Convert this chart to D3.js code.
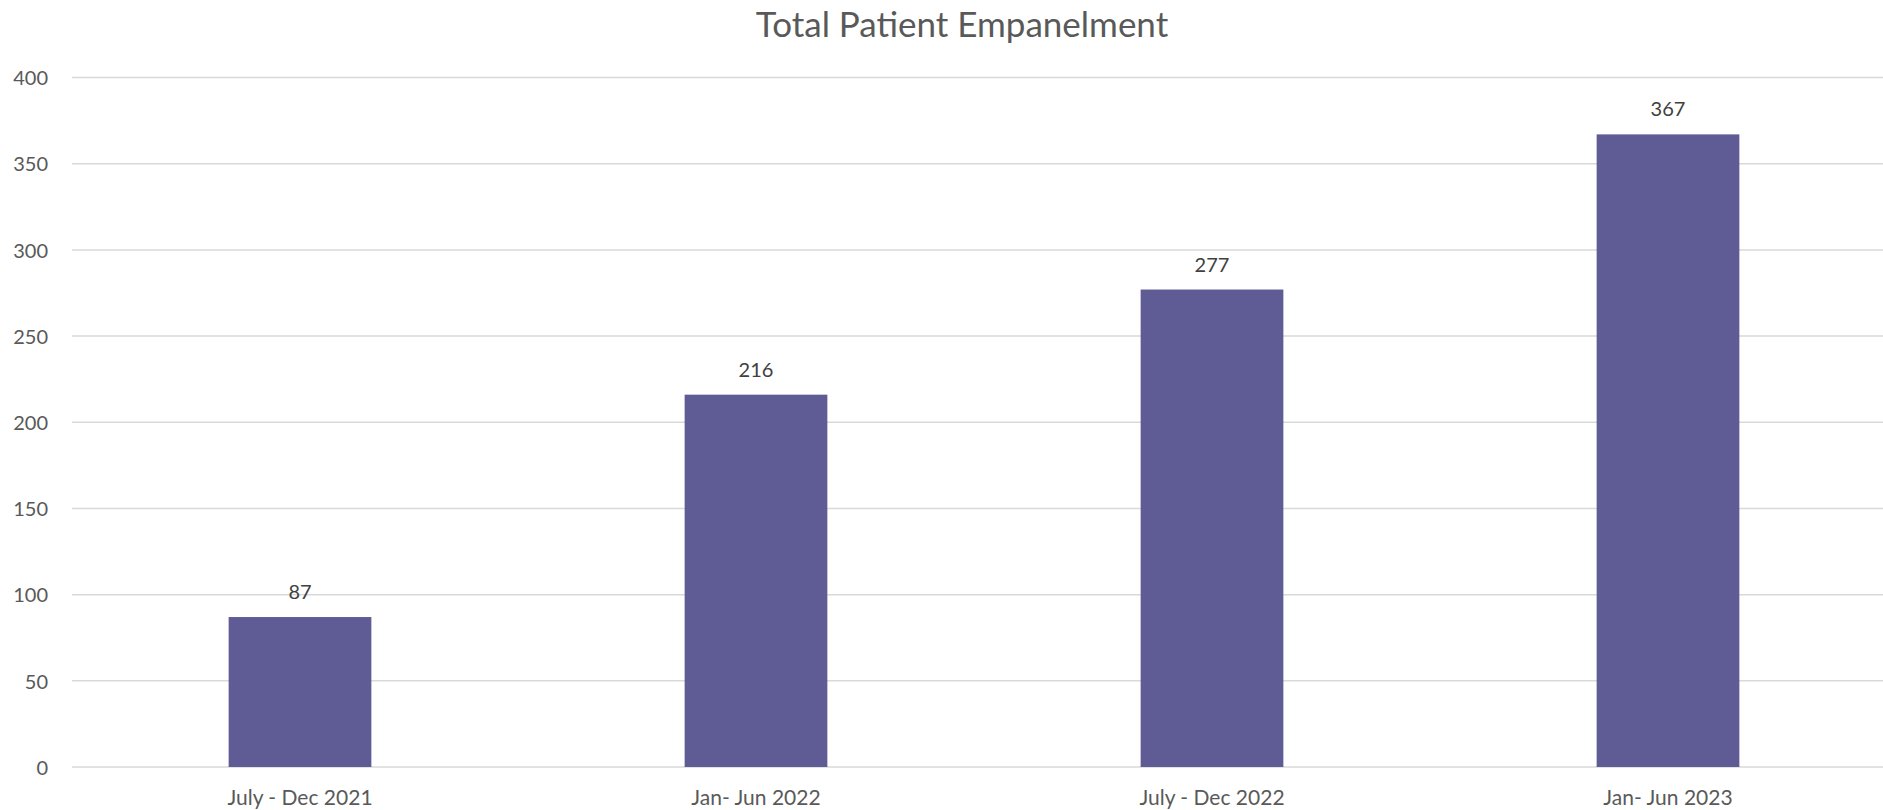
<!DOCTYPE html>
<html>
<head>
<meta charset="utf-8">
<script src="https://cdn.jsdelivr.net/npm/d3@7"></script>
<style>
  html, body { margin: 0; padding: 0; background: #fff; }
  svg { display: block; font-family: Lato, "Open Sans", sans-serif; }
</style>
</head>
<body>
<svg id="chart" width="1883" height="810"></svg>
<script>
const categories = ["July - Dec 2021", "Jan- Jun 2022", "July - Dec 2022", "Jan- Jun 2023"];
const values = [87, 216, 277, 367];
const yTicks = [0, 50, 100, 150, 200, 250, 300, 350, 400];
const title = "Total Patient Empanelment";

const svg = d3.select("#chart");
const plotLeft = 72, plotRight = 1896, plotTop = 77.5, plotBottom = 767;

const x = d3.scaleBand().domain(categories).range([plotLeft, plotRight]).paddingInner(0.687).paddingOuter(0.3435);
const y = d3.scaleLinear().domain([0, 400]).range([plotBottom, plotTop]);

// gridlines
svg.append("g").selectAll("line").data(yTicks).join("line")
  .attr("x1", plotLeft).attr("x2", plotRight)
  .attr("y1", d => y(d)).attr("y2", d => y(d))
  .attr("stroke", "#d9d9d9").attr("stroke-width", 1.5);

// y axis labels
const yAxis = d3.axisLeft(y).tickValues(yTicks).tickSize(0).tickPadding(0);
const ga = svg.append("g").attr("transform", `translate(48,0)`).call(yAxis);
ga.select(".domain").remove();
ga.selectAll("text").attr("font-size", 20).attr("fill", "#595959").attr("font-family", "Lato, 'Open Sans', sans-serif").attr("dy", "0.36em");

// bars
svg.append("g").selectAll("rect").data(values).join("rect")
  .attr("x", (d, i) => x(categories[i]))
  .attr("width", x.bandwidth())
  .attr("y", d => y(d))
  .attr("height", d => y(0) - y(d))
  .attr("fill", "#5f5b95");

// data labels
svg.append("g").selectAll("text").data(values).join("text")
  .attr("x", (d, i) => x(categories[i]) + x.bandwidth() / 2)
  .attr("y", d => y(d) - 18)
  .attr("text-anchor", "middle")
  .attr("font-size", 20)
  .attr("fill", "#404040")
  .text(d => d);

// x labels
const xAxis = d3.axisBottom(x).tickSize(0).tickPadding(0);
const gx = svg.append("g").attr("transform", `translate(0,${plotBottom})`).call(xAxis);
gx.select(".domain").remove();
gx.selectAll("text").attr("font-size", 21).attr("fill", "#595959").attr("font-family", "Lato, 'Open Sans', sans-serif").attr("dy", null).attr("y", 38);

// title
svg.append("text").attr("x", 962).attr("y", 37).attr("text-anchor", "middle")
  .attr("font-size", 35).attr("fill", "#595959").text(title);
</script>
</body>
</html>
